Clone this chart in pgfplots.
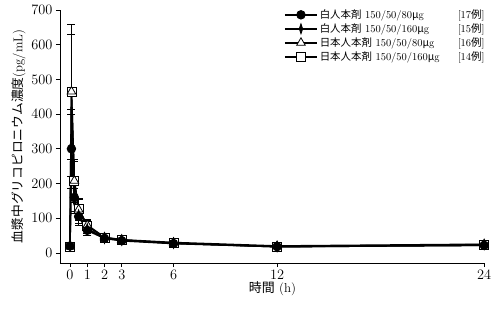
\documentclass[border=0pt]{standalone}
\usepackage{pgfplots}
\pgfplotsset{compat=1.18}
\usepackage{fontspec}
\newfontfamily\cjk{Noto Sans CJK JP}
\begin{document}
\begin{tikzpicture}
\begin{axis}[
  scale only axis, width=425bp, height=253bp,
  xmin=-0.58, xmax=24.05, ymin=-29, ymax=700,
  axis x line*=bottom, axis y line*=left,
  axis line style={line width=0.8pt},
  xtick={0,1,2,3,6,12,24}, ytick={0,100,200,300,400,500,600,700},
  tick align=outside, major tick length=4bp,
  tick style={black, line width=0.8pt},
  tick label style={font=\fontsize{13.5}{15}\selectfont},
  xlabel={{\cjk 時間} (h)},
  ylabel={{\cjk 血漿中グリコピロニウム濃度}(pg/mL)},
  xlabel style={font=\fontsize{13}{15}\selectfont, yshift=5bp},
  ylabel style={font=\fontsize{12.8}{15}\selectfont, yshift=-1bp},
  reverse legend,
  legend style={draw=none, fill=none, at={(0.527,1.01)}, anchor=north west,
    font=\fontsize{10.5}{12}\selectfont, row sep=-0.3bp, inner sep=0pt,
    /tikz/every even column/.append style={column sep=2bp}},
  legend cell align=left,
  legend image code/.code={\draw[mark repeat=2,mark phase=2,#1] plot coordinates {(0bp,0bp)(16bp,0bp)(32bp,0bp)};},
  error bars/error bar style={line width=0.7pt, black},
  error bars/error mark options={rotate=90, mark size=4bp, line width=0.7pt, black},
]
% Japanese 160 (square)
\addplot[black, line width=1.6pt, mark=square*, mark size=4.5bp, mark options={solid, line width=0.8pt, fill=white},
  error bars/.cd, y dir=both, y explicit]
coordinates {
(0,18) +- (0,4)
(0.083,465) +- (0,165)
(0.25,208) +- (0,57)
(0.5,127) +- (0,28)
(1,78) +- (0,15)
(2,44) +- (0,8)
(3,37) +- (0,6)
(6,28) +- (0,6)
(12,18) +- (0,4)
(24,22) +- (0,4)
};
\addlegendentry{\makebox[138bp][l]{{\cjk 日本人本剤} 150/50/160{\cjk μ}g}[14{\cjk 例}]}
% Japanese 80 (triangle)
\addplot[black, line width=1.6pt, mark=triangle*, mark size=5bp, mark options={solid, line width=0.8pt, fill=white},
  error bars/.cd, y dir=both, y explicit]
coordinates {
(0,18) +- (0,4)
(0.083,465) +- (0,195)
(0.25,208) +- (0,62)
(0.5,125) +- (0,32)
(1,80) +- (0,16)
(2,45) +- (0,8)
(3,38) +- (0,7)
(6,30) +- (0,7)
(12,20) +- (0,5)
(24,25) +- (0,5)
};
\addlegendentry{\makebox[138bp][l]{{\cjk 日本人本剤} 150/50/80{\cjk μ}g}[16{\cjk 例}]}
% Caucasian 160 (thin diamond)
\addplot[black, line width=1.6pt, mark=diamond*, mark size=5bp, mark options={solid, line width=0.8pt, fill=black, xscale=0.45},
  error bars/.cd, y dir=both, y explicit]
coordinates {
(0,20) +- (0,5)
(0.083,310) +- (0,90)
(0.25,150) +- (0,35)
(0.5,110) +- (0,25)
(1,70) +- (0,14)
(2,42) +- (0,8)
(3,37) +- (0,7)
(6,28) +- (0,7)
(12,18) +- (0,5)
(24,24) +- (0,5)
};
\addlegendentry{\makebox[138bp][l]{{\cjk 白人本剤} 150/50/160{\cjk μ}g}[15{\cjk 例}]}
% Caucasian 80 (filled circle)
\addplot[black, line width=1.6pt, mark=*, mark size=4.3bp, mark options={solid, line width=0.8pt, fill=black},
  error bars/.cd, y dir=both, y explicit]
coordinates {
(0,20) +- (0,5)
(0.083,300) +- (0,115)
(0.25,160) +- (0,40)
(0.5,105) +- (0,25)
(1,65) +- (0,13)
(2,42) +- (0,8)
(3,35) +- (0,7)
(6,27) +- (0,6)
(12,18) +- (0,4)
(24,22) +- (0,4)
};
\addlegendentry{\makebox[138bp][l]{{\cjk 白人本剤} 150/50/80{\cjk μ}g}[17{\cjk 例}]}
\end{axis}
\pgfresetboundingbox
\path[use as bounding box] (-60bp,-47bp) rectangle (438bp,263bp);
\end{tikzpicture}
\end{document}
